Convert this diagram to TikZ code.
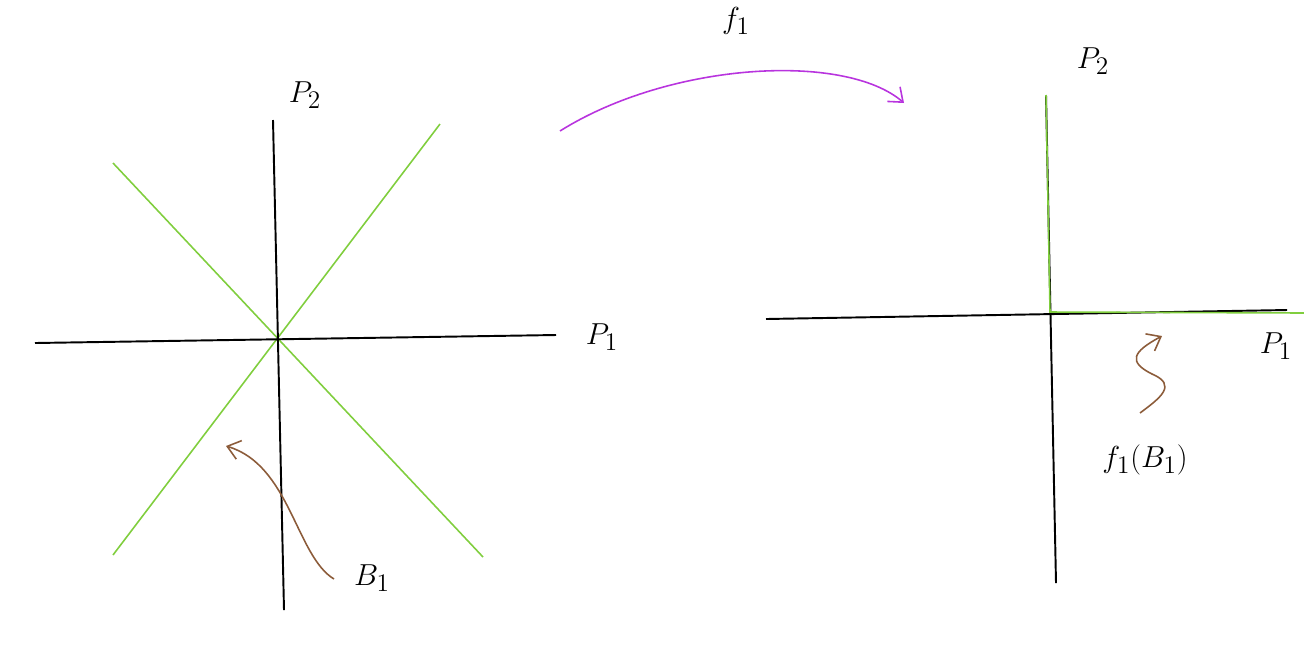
\documentclass[tikz,border=0pt]{standalone}
\usepackage{amsmath}
\usepackage{amssymb}
\usepackage{tikz}
\usetikzlibrary{arrows.meta}
\definecolor{fibregreen}{RGB}{128,206,62}
\definecolor{pointbrown}{RGB}{140,92,58}
\definecolor{mapviolet}{RGB}{184,52,222}

\begin{document}
\begin{tikzpicture}[x=0.02cm,y=-0.02cm]
\tikzstyle{axis}=[black,line width=1.1pt]
\tikzstyle{fibre}=[fibregreen,line width=0.9pt]
\tikzstyle{pointer}=[pointbrown,line width=0.9pt,-{Straight Barb[length=7pt,width=11pt]}]
\tikzstyle{map}=[mapviolet,line width=0.9pt,-{Straight Barb[length=7pt,width=11pt]}]
\tikzstyle{lbl}=[font=\fontsize{19}{23}\selectfont,inner sep=0pt]
\useasboundingbox (0,0) rectangle (1304,654);
% left picture
\coordinate (l1) at (35,343);
\coordinate (l2) at (556,335);
\coordinate (l3) at (273,120);
\coordinate (l4) at (284,610);
\coordinate (g1) at (113,163);
\coordinate (g2) at (483,557);
\coordinate (g3) at (440,124);
\coordinate (g4) at (113,555);
\draw[fibre] (g1) -- (g2);
\draw[fibre] (g3) -- (g4);
\draw[axis] (l1) -- (l2);
\draw[axis] (l3) -- (l4);
\node[lbl] (p2) at (305,95) {$P_2$};
\node[lbl] (p1) at (602,337) {$P_1$};
\node[lbl] (b1) at (372,578) {$B_1$};
\coordinate (b1s) at (334,579);
\coordinate (b1e) at (226,446);
\draw[pointer] (b1s) .. controls (296,556) and (290,465) .. (b1e);
% the map
\coordinate (ms) at (560,131);
\coordinate (me) at (904,103);
\draw[map] (ms) .. controls (670,62) and (845,52) .. (me);
\node[lbl] (f1) at (736,21) {$f_1$};
% right picture
\coordinate (r1) at (766,319);
\coordinate (r2) at (1287,310);
\coordinate (r3) at (1046,95);
\coordinate (r4) at (1056,583);
\coordinate (o) at (1050,312);
\coordinate (r5) at (1304,313);
\draw[axis] (r1) -- (r2);
\draw[axis] (r3) -- (r4);
\draw[fibre] (r3) -- (o) -- (r5);
\node[lbl] (q2) at (1093,61) {$P_2$};
\node[lbl] (q1) at (1276,346) {$P_1$};
\node[lbl] (fb) at (1145,460) {$f_1(B_1)$};
\coordinate (fbs) at (1140,413);
\coordinate (fbm) at (1152,374);
\coordinate (fbe) at (1162,336);
\draw[pointer] (fbs) .. controls (1160,398) and (1178,385) .. (fbm)
  .. controls (1128,362) and (1132,352) .. (fbe);
\end{tikzpicture}
\end{document}
